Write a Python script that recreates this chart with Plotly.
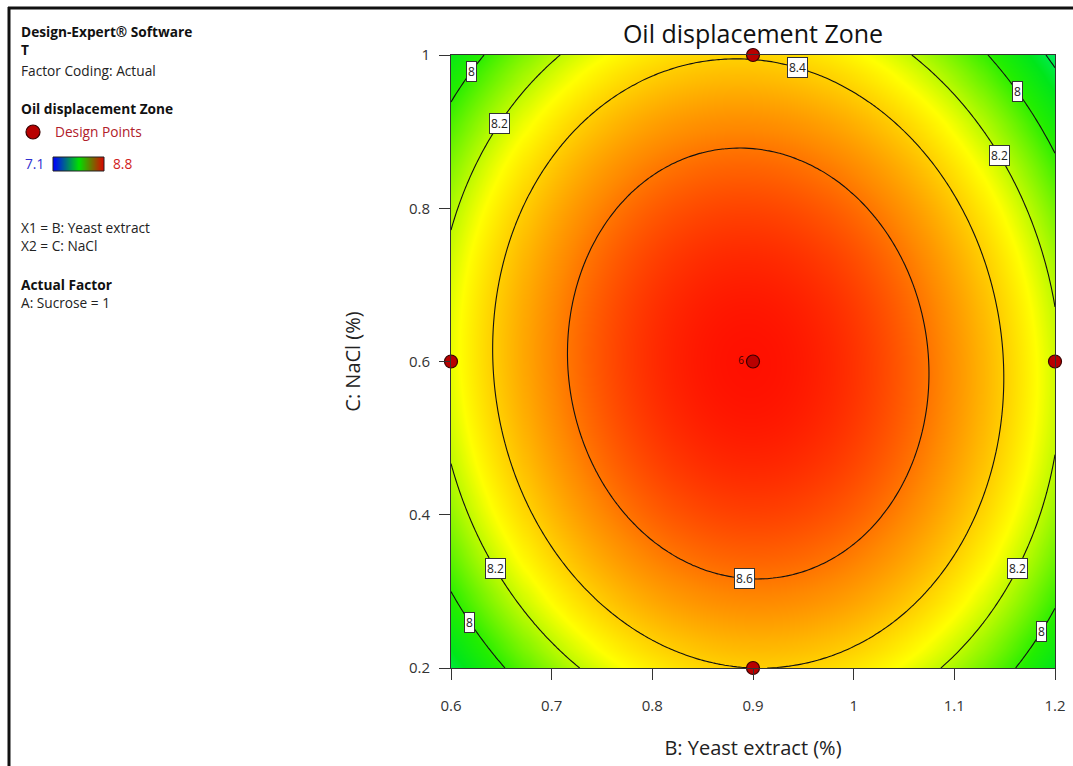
import numpy as np
import plotly.graph_objects as go

# ---------------- data ----------------
# fitted quadratic model (coded units): b0, B, C, BC, B^2, C^2
model_terms = ["b0", "B", "C", "BC", "B2", "C2"]
model_coefs = [8.80, -0.018, -0.006, -0.045, -0.56, -0.406]
b_range = [0.6, 1.2]          # B: Yeast extract (%)
c_range = [0.2, 1.0]          # C: NaCl (%)
contour_levels = [7.8, 8.0, 8.2, 8.4, 8.6]
z_limits = [7.1, 8.8]

design_b = [0.6, 1.2, 0.9, 0.9, 0.9]
design_c = [0.6, 0.6, 1.0, 0.2, 0.6]
design_reps = [1, 1, 1, 1, 6]

x_ticks = [0.6, 0.7, 0.8, 0.9, 1.0, 1.1, 1.2]
x_tick_text = ["0.6", "0.7", "0.8", "0.9", "1", "1.1", "1.2"]
y_ticks = [0.2, 0.4, 0.6, 0.8, 1.0]
y_tick_text = ["0.2", "0.4", "0.6", "0.8", "1"]

# contour label anchors: (level, fixed axis, fixed value, branch)
label_levels = [8.0, 8.2, 8.4, 8.0, 8.2, 8.2, 8.0, 8.6, 8.2, 8.0]
label_axis = ["y", "y", "x", "y", "y", "y", "y", "x", "y", "y"]
label_at = [0.979, 0.911, 0.944, 0.952, 0.869, 0.330, 0.260, 0.892, 0.330, 0.247]
label_branch = [-1, -1, 1, 1, 1, -1, -1, -1, 1, 1]

# ---------------- response surface ----------------
bmid, bhalf = np.mean(b_range), (b_range[1] - b_range[0]) / 2
cmid, chalf = np.mean(c_range), (c_range[1] - c_range[0]) / 2
b0, b1, b2, b12, b11, b22 = model_coefs

bx = np.linspace(b_range[0], b_range[1], 151)
cy = np.linspace(c_range[0], c_range[1], 151)
BX, CY = np.meshgrid(bx, cy)
Xc = (BX - bmid) / bhalf
Yc = (CY - cmid) / chalf
Z = b0 + b1 * Xc + b2 * Yc + b12 * Xc * Yc + b11 * Xc ** 2 + b22 * Yc ** 2


def solve_on_contour(level, axis, value, branch):
    """Find the free coordinate of the model contour `level` at a fixed coordinate."""
    if axis == "y":
        Y = (value - cmid) / chalf
        a, b, c = b11, b1 + b12 * Y, b0 + b2 * Y + b22 * Y ** 2 - level
    else:
        X = (value - bmid) / bhalf
        a, b, c = b22, b2 + b12 * X, b0 + b1 * X + b11 * X ** 2 - level
    disc = max(b * b - 4 * a * c, 0.0)
    roots = sorted([(-b + np.sqrt(disc)) / (2 * a), (-b - np.sqrt(disc)) / (2 * a)])
    r = roots[0] if branch < 0 else roots[1]
    if axis == "y":
        return r * bhalf + bmid, value
    return value, r * chalf + cmid


W, H = 1073, 766
L, R, T, B = 451, 1055, 55, 668
FONT = "Segoe UI, Open Sans, Noto Sans, sans-serif"

surface_scale = [
    [0.0, "#0000ff"],
    [0.25, "#00ffff"],
    [0.45, "#00e61a"],
    [0.52, "#22ee00"],
    [0.70, "#ffff00"],
    [0.86, "#ff8800"],
    [1.0, "#ff1000"],
]

fig = go.Figure()
fig.add_trace(go.Heatmap(
    x=bx, y=cy, z=Z, zmin=z_limits[0], zmax=z_limits[1],
    colorscale=surface_scale, zsmooth="best", showscale=False,
    hoverinfo="skip"))
fig.add_trace(go.Contour(
    x=bx, y=cy, z=Z,
    contours=dict(start=contour_levels[0], end=contour_levels[-1],
                  size=round(contour_levels[1] - contour_levels[0], 3),
                  coloring="none", showlabels=False),
    line=dict(color="#111", width=1.1), showscale=False, hoverinfo="skip"))

fig.add_trace(go.Scatter(
    x=design_b, y=design_c, mode="markers+text",
    text=[str(r) if r > 1 else "" for r in design_reps],
    textposition="middle left", textfont=dict(size=10, color="#400000", family=FONT),
    marker=dict(size=13, color="#b80000", line=dict(color="#3a0000", width=1.2)),
    cliponaxis=False, showlegend=False, hoverinfo="skip"))

# legend colour bar (small heatmap on its own axes)
fig.add_trace(go.Heatmap(
    x=[0, 1], y=[0], z=[z_limits], zmin=z_limits[0], zmax=z_limits[1],
    colorscale=[[0, "#0000ff"], [0.5, "#00e000"], [1, "#e00000"]],
    zsmooth="best", showscale=False, xaxis="x2", yaxis="y2", hoverinfo="skip"))

# contour labels (boxed, horizontal)
for lev, ax, val, br in zip(label_levels, label_axis, label_at, label_branch):
    lx, ly = solve_on_contour(lev, ax, val, br)
    fig.add_annotation(x=lx, y=ly, xref="x", yref="y", text=f"{lev:g}",
                       showarrow=False, bgcolor="white", bordercolor="#333",
                       borderwidth=1, borderpad=1,
                       font=dict(size=12, color="#222", family=FONT))

fig.update_layout(
    template="none",
    width=W, height=H, autosize=False,
    margin=dict(l=0, r=0, t=0, b=0, pad=0),
    paper_bgcolor="white", plot_bgcolor="white",
    font=dict(family=FONT, color="#222"),
    showlegend=False,
    title=dict(text="Oil displacement Zone", x=753 / W, xanchor="center",
               y=1 - 34 / H, yanchor="middle", automargin=False,
               font=dict(size=25, color="#111", family=FONT)),
    xaxis=dict(domain=[L / W, R / W], range=b_range, tickvals=x_ticks,
               ticktext=x_tick_text, showgrid=False, zeroline=False,
               automargin=False,
               ticks="outside", ticklen=11, tickcolor="#333", showline=True,
               linecolor="#333", mirror=True,
               tickfont=dict(size=15, color="#333"), ticklabelstandoff=13,
               title=dict(text="B: Yeast extract (%)",
                          font=dict(size=20, color="#222"), standoff=26)),
    yaxis=dict(domain=[1 - B / H, 1 - T / H], range=c_range, tickvals=y_ticks,
               ticktext=y_tick_text, showgrid=False, zeroline=False,
               automargin=False,
               ticks="outside", ticklen=11, tickcolor="#333", showline=True,
               linecolor="#333", mirror=True,
               tickfont=dict(size=15, color="#333"), ticklabelstandoff=6,
               title=dict(text="C: NaCl (%)", font=dict(size=20, color="#222"),
                          standoff=42)),
    xaxis2=dict(domain=[53 / W, 104 / W], range=[0, 1], visible=False,
                fixedrange=True, automargin=False),
    yaxis2=dict(domain=[1 - 171 / H, 1 - 157 / H], range=[-0.5, 0.5],
                visible=False, fixedrange=True, automargin=False),
)


def qx(x):
    return x / W


def qy(y):
    return 1 - y / H


# colour bar border
fig.add_shape(type="rect", xref="paper", yref="paper",
              x0=qx(53), x1=qx(104), y0=qy(171), y1=qy(157),
              line=dict(color="#222", width=1))
# legend design-point marker
fig.add_shape(type="circle", xref="paper", yref="paper",
              x0=qx(26), x1=qx(40), y0=qy(139), y1=qy(125),
              fillcolor="#b80000", line=dict(color="#3a0000", width=1.2))
# outer frame (left and top)
fig.add_shape(type="line", xref="paper", yref="paper",
              x0=qx(9), x1=qx(9), y0=qy(7), y1=qy(H + 5),
              line=dict(color="#111", width=3))
fig.add_shape(type="line", xref="paper", yref="paper",
              x0=qx(8), x1=qx(W + 5), y0=qy(8), y1=qy(8),
              line=dict(color="#111", width=3))


def note(text, x, y, size=13.7, color="#222", bold=False):
    fig.add_annotation(text=f"<b>{text}</b>" if bold else text,
                       xref="paper", yref="paper", x=qx(x), y=qy(y),
                       xanchor="left", yanchor="middle", showarrow=False,
                       font=dict(size=size, color=color, family=FONT))


note("Design-Expert® Software", 19, 32, bold=True, color="#111")
note("T", 19, 49, bold=True, color="#111")
note("Factor Coding: Actual", 19, 70)
note("Oil displacement Zone", 19, 108, bold=True, color="#111")
note("Design Points", 53, 132, color="#b0202a")
note("7.1", 23, 164, color="#3030d0")
note("8.8", 111, 164, color="#d02020")
note("X1 = B: Yeast extract", 19, 227)
note("X2 = C: NaCl", 19, 246)
note("Actual Factor", 19, 284, bold=True, color="#111")
note("A: Sucrose = 1", 19, 302)

fig.write_html("out.html")
